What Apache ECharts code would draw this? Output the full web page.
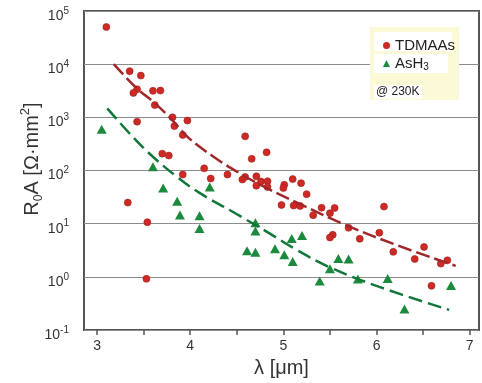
<!DOCTYPE html>
<html>
<head>
<meta charset="utf-8">
<script src="https://cdn.jsdelivr.net/npm/echarts@6/dist/echarts.min.js"></script>
<style>
  html, body { margin: 0; padding: 0; background: #fff; }
  #chart { width: 482px; height: 383px; }
</style>
</head>
<body>
<div id="chart"></div>
<script>
// measured points, λ in µm and R0A in Ω·mm²
const tdmaasX = [3.10, 3.35, 3.47, 3.43, 3.39, 3.60, 3.68, 3.62, 3.81, 3.97, 3.43, 3.83, 3.92, 3.70,
  3.77, 3.92, 4.15, 4.22, 4.40, 3.33, 3.54, 3.53, 4.59, 4.82, 4.66, 4.56, 4.59, 4.71, 4.76, 4.83,
  4.71, 4.83, 5.01, 5.00, 5.10, 5.19, 5.25, 4.98, 5.11, 5.18, 5.32, 5.41, 5.50, 5.55, 6.08, 5.70,
  6.03, 5.53, 5.50, 5.82, 6.51, 6.18, 6.41, 6.76, 6.69, 6.59]
const tdmaasY = [50000, 7400, 6100, 3380, 2880, 3150, 3200, 1700, 1000, 870, 830, 685, 467, 208,
  191, 84, 110, 71, 84, 25, 10.7, 0.92, 440, 220, 166, 68, 76, 78, 62, 63,
  52, 49, 54, 47, 69, 58, 36, 22.5, 22, 21.6, 14.5, 20, 15.8, 19.8, 21, 8.4,
  6.8, 6.2, 5.5, 5.2, 3.66, 2.96, 2.17, 2.05, 1.78, 0.68]

const ash3X = [3.05, 3.60, 3.71, 3.86, 3.89, 4.10, 4.10, 4.21, 4.70, 4.70, 4.61, 4.70, 4.91, 5.01,
  5.09, 5.20, 5.10, 5.39, 5.50, 5.59, 5.70, 5.80, 6.12, 6.30, 6.80]
const ash3Y = [600, 118, 47, 26.5, 14.6, 14.1, 8.1, 49, 10.4, 7.3, 3.1, 2.9, 3.4, 2.6,
  5.3, 6.0, 1.94, 0.84, 1.43, 2.23, 2.18, 0.91, 0.93, 0.25, 0.69]

// dashed fit curves
const tdmaasFitX = [3.18, 3.43, 3.62, 3.80, 3.98, 4.25, 4.53, 4.82, 5.18, 5.68, 6.21, 6.85]
const tdmaasFitY = [10000, 3470, 1860, 912, 417, 182, 89, 47, 23.4, 9.3, 4.0, 1.61]
const ash3FitX = [3.11, 3.39, 3.60, 3.85, 4.10, 4.46, 4.82, 5.14, 5.50, 6.03, 6.78]
const ash3FitY = [1480, 417, 182, 78, 38, 16.6, 7.1, 3.24, 1.51, 0.65, 0.24]

const xLabels = [3, 4, 5, 6, 7]
const xTicks = [3, 3.5, 4, 4.5, 5, 5.5, 6, 6.5, 7]

const zip = (xs, ys) => xs.map((x, i) => [x, ys[i]])

const FONT = 'Liberation Sans, Arial, sans-serif'
const RED = '#cd2a26'
const RED_LINE = '#a0282a'
const GREEN = '#1c8a3c'
const GREEN_LINE = '#12773b'

const chart = echarts.init(document.getElementById('chart'), null, { renderer: 'canvas' })

chart.setOption({
  animation: false,
  textStyle: { fontFamily: FONT },
  grid: {
    left: 84, right: 3, top: 11, bottom: 47,
    show: true, borderColor: '#555', borderWidth: 2,
  },
  xAxis: {
    type: 'value',
    min: 2.86, max: 7.1,
    axisLine: { show: false },
    splitLine: { show: false },
    axisTick: {
      show: true, length: 5, inside: false,
      customValues: xTicks,
      lineStyle: { color: '#555', width: 1.5 },
    },
    axisLabel: {
      customValues: xLabels,
      margin: 9,
      fontSize: 14, color: '#333', fontFamily: FONT,
    },
    name: 'λ [μm]',
    nameLocation: 'middle',
    nameGap: 23,
    nameTextStyle: { fontSize: 20, color: '#333', fontFamily: FONT },
  },
  yAxis: {
    type: 'log',
    logBase: 10,
    min: 0.1, max: 100000,
    axisLine: { show: false },
    axisTick: { show: false },
    splitLine: { show: true, lineStyle: { color: '#8c8c8c', width: 1 } },
    axisLabel: {
      margin: 15,
      padding: [10, 0, 0, 0],
      formatter: v => '{b|10}{e|' + Math.round(Math.log10(v)) + '}',
      rich: {
        b: { fontSize: 14, lineHeight: 20, color: '#333', fontFamily: FONT },
        e: { fontSize: 10, lineHeight: 10, verticalAlign: 'top', color: '#333', fontFamily: FONT },
      },
    },
  },
  legend: {
    data: [
      { name: 'TDMAAs', icon: 'circle', itemStyle: { borderWidth: 0 } },
      { name: 'AsH3', icon: 'triangle' },
    ],
    orient: 'vertical',
    left: 378, top: 33,
    itemWidth: 7, itemHeight: 7,
    itemGap: 3,
    z: 10,
    formatter: name => name === 'AsH3' ? '{n|AsH}{s|3}' : '{n|' + name + '}',
    textStyle: {
      fontFamily: FONT,
      rich: {
        n: { fontSize: 15, lineHeight: 18, color: '#222', fontFamily: FONT },
        s: { fontSize: 10, lineHeight: 10, verticalAlign: 'bottom', color: '#222', fontFamily: FONT },
      },
    },
  },
  graphic: [
    { type: 'rect', z: 5, shape: { x: 370, y: 27, width: 89, height: 73 }, style: { fill: '#fcf9d6' } },
    { type: 'rect', z: 6, shape: { x: 374, y: 32, width: 78, height: 19 }, style: { fill: '#fff' } },
    { type: 'rect', z: 6, shape: { x: 374, y: 54, width: 74, height: 19 }, style: { fill: '#fff' } },
    { type: 'rect', z: 6, shape: { x: 374, y: 85, width: 48, height: 14 }, style: { fill: '#fff' } },
    {
      type: 'text', z: 7, x: 376, y: 92,
      style: { text: '@ 230K', fill: '#222', font: '12px ' + FONT, verticalAlign: 'middle' },
    },
    {
      type: 'text', x: 32, y: 159, rotation: Math.PI / 2,
      style: {
        text: '{a|R}{s|0}{a|A [Ω·mm}{p|2}{a|]}',
        align: 'center', verticalAlign: 'middle',
        rich: {
          a: { fontSize: 20, lineHeight: 26, fill: '#333', fontFamily: FONT },
          s: { fontSize: 12, lineHeight: 12, verticalAlign: 'bottom', fill: '#333', fontFamily: FONT },
          p: { fontSize: 13, lineHeight: 13, verticalAlign: 'top', fill: '#333', fontFamily: FONT },
        },
      },
    },
  ],
  series: [
    {
      name: 'TDMAAs fit',
      type: 'line',
      data: zip(tdmaasFitX, tdmaasFitY),
      smooth: 0.4,
      showSymbol: false,
      lineStyle: { color: RED_LINE, width: 2.5, type: [14, 5] },
    },
    {
      name: 'AsH3 fit',
      type: 'line',
      data: zip(ash3FitX, ash3FitY),
      smooth: 0.4,
      showSymbol: false,
      lineStyle: { color: GREEN_LINE, width: 2.5, type: [14, 6] },
    },
    {
      name: 'TDMAAs',
      type: 'scatter',
      data: zip(tdmaasX, tdmaasY),
      symbol: 'circle',
      symbolSize: 7,
      itemStyle: { color: RED, borderColor: '#a31d1a', borderWidth: 0.6, opacity: 1 },
    },
    {
      name: 'AsH3',
      type: 'scatter',
      data: zip(ash3X, ash3Y),
      symbol: 'triangle',
      symbolSize: [10, 9],
      itemStyle: { color: GREEN, opacity: 1 },
    },
  ],
})
</script>
</body>
</html>
